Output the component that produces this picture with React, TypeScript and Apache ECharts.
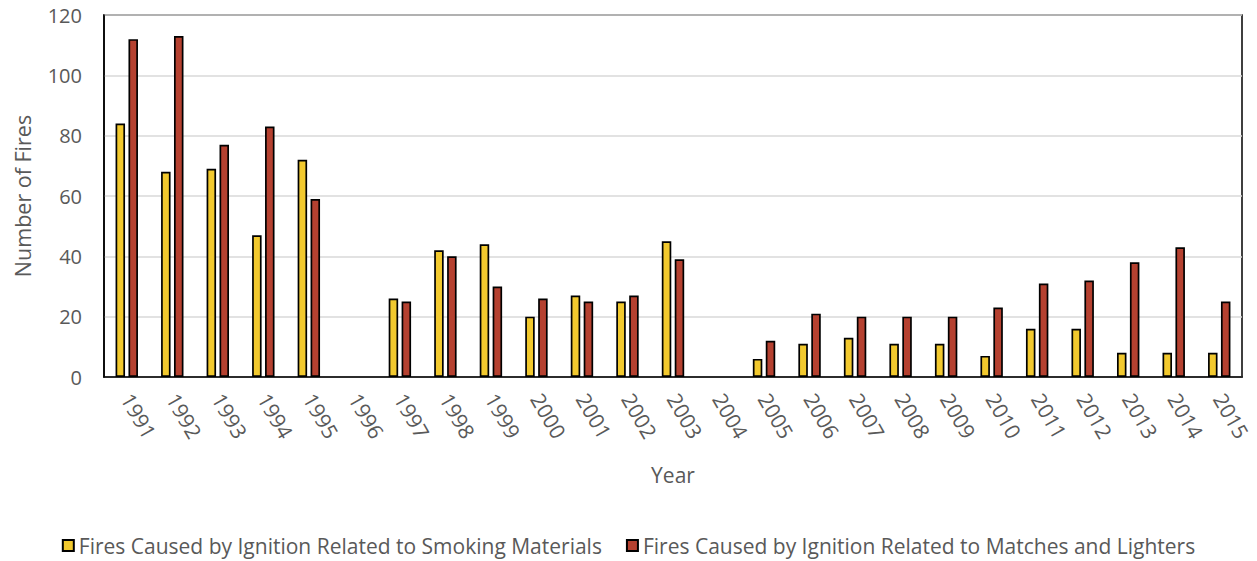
import React, { useEffect, useRef } from "react";
import * as echarts from "echarts";

const years = ["1991","1992","1993","1994","1995","1996","1997","1998","1999","2000","2001","2002","2003","2004","2005","2006","2007","2008","2009","2010","2011","2012","2013","2014","2015"];
const smoking = [84, 68, 69, 47, 72, null, 26, 42, 44, 20, 27, 25, 45, null, 6, 11, 13, 11, 11, 7, 16, 16, 8, 8, 8];
const matches = [112, 113, 77, 83, 59, null, 25, 40, 30, 26, 25, 27, 39, null, 12, 21, 20, 20, 20, 23, 31, 32, 38, 43, 25];
const seriesNames = [
  "Fires Caused by Ignition Related to Smoking Materials",
  "Fires Caused by Ignition Related to Matches and Lighters",
];

const FONT = "'Open Sans', 'Noto Sans', sans-serif";
const GREY = "#595959";

export default function App() {
  const ref = useRef<HTMLDivElement>(null);
  useEffect(() => {
    if (!ref.current) return;
    const chart = echarts.init(ref.current, null, { renderer: "svg" });
    chart.setOption({
      animation: false,
      textStyle: { fontFamily: FONT },
      grid: {
        left: 104,
        right: 15,
        top: 15,
        bottom: 184,
        show: true,
        borderColor: "#000",
        borderWidth: 1.5,
        containLabel: false,
        outerBoundsMode: "none",
      },
      legend: {
        top: 530,
        left: "center",
        itemWidth: 11,
        itemHeight: 11,
        itemGap: 24,
        icon: "rect",
        textStyle: { fontFamily: FONT, fontSize: 21, color: GREY },
        data: seriesNames,
      },
      xAxis: {
        type: "category",
        data: years,
        name: "Year",
        nameLocation: "middle",
        nameGap: 87,
        nameTextStyle: { fontFamily: FONT, fontSize: 21, color: GREY },
        axisLine: { lineStyle: { color: "#000", width: 1.5 } },
        axisTick: { show: false },
        axisLabel: {
          rotate: -60,
          interval: 0,
          fontFamily: FONT,
          fontSize: 21,
          color: GREY,
          margin: 18,
        },
      },
      yAxis: {
        type: "value",
        min: 0,
        max: 120,
        interval: 20,
        name: "Number of Fires",
        nameLocation: "middle",
        nameGap: 71,
        nameTextStyle: { fontFamily: FONT, fontSize: 21.5, color: GREY },
        axisLine: { show: true, lineStyle: { color: "#000", width: 1.5 } },
        axisTick: { show: false },
        axisLabel: { fontFamily: FONT, fontSize: 20, color: GREY, margin: 22 },
        splitLine: { lineStyle: { color: "#D9D9D9", width: 1.5 } },
      },
      series: [
        {
          name: seriesNames[0],
          type: "bar",
          data: smoking,
          barWidth: 9.5,
          barGap: "36%",
          itemStyle: { color: "#F2C92E", borderColor: "#000", borderWidth: 1.7 },
        },
        {
          name: seriesNames[1],
          type: "bar",
          data: matches,
          barWidth: 9.5,
          barGap: "36%",
          itemStyle: { color: "#B54130", borderColor: "#000", borderWidth: 1.7 },
        },
      ],
    });
    return () => chart.dispose();
  }, []);
  return (
    <div
      ref={ref}
      style={{ position: "absolute", left: 0, top: 0, width: 1257, height: 561 }}
    />
  );
}
